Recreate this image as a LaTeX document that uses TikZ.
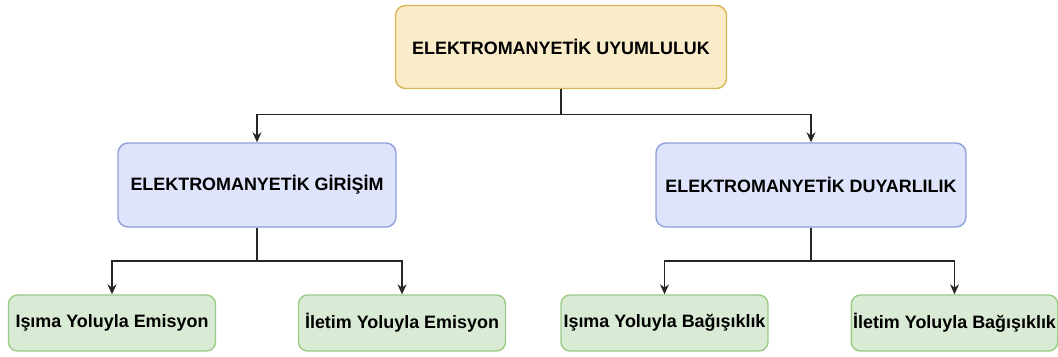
\documentclass[tikz,border=0pt]{standalone}
\usepackage{fontspec}
\setmainfont{Liberation Sans}
\usetikzlibrary{positioning,arrows.meta}
\tikzset{>={Stealth[length=2mm,width=1.8mm]}}
\definecolor{topfill}{HTML}{FAEBC9}
\definecolor{topline}{HTML}{D6B656}
\definecolor{midfill}{HTML}{DEE4FB}
\definecolor{midline}{HTML}{8E9FD9}
\definecolor{lowfill}{HTML}{D9EAD5}
\definecolor{lowline}{HTML}{9CCB85}
\tikzset{
  topbox/.style={draw=topline, fill=topfill, line width=0.8pt, rounded corners=0.2cm, minimum width=6.62cm, minimum height=1.66cm},
  midbox/.style={draw=midline, fill=midfill, line width=0.8pt, rounded corners=0.2cm, minimum height=1.68cm},
  lowbox/.style={draw=lowline, fill=lowfill, line width=0.8pt, rounded corners=0.18cm, inner xsep=1pt, minimum width=4.14cm, minimum height=1.12cm},
  conn/.style={->, line width=0.7pt, draw=black!85}
}
\begin{document}
\begin{tikzpicture}[font=\fontsize{10.2}{12}\selectfont\bfseries]
      \useasboundingbox (0,0) rectangle (21.16,-7.12);
      \node[topbox] (n0) at (11.22,-0.94) {ELEKTROMANYETİK UYUMLULUK};
      \coordinate[below of=n0, node distance=2.76cm] (aux1);
      \node[midbox, minimum width=5.56cm, left of=aux1, node distance=6.08cm] (n1) {ELEKTROMANYETİK GİRİŞİM};
      \node[midbox, minimum width=6.2cm, right of=aux1, node distance=5cm] (n2) {ELEKTROMANYETİK DUYARLILIK};
      \coordinate[below of=n1, node distance=2.76cm] (aux2);
      \coordinate[below of=n2, node distance=2.76cm] (aux3);
      \node[lowbox, left of=aux2, node distance=2.9cm] (n3) {Işıma Yoluyla Emisyon};
      \node[lowbox, right of=aux2, node distance=2.9cm] (n4) {İletim Yoluyla Emisyon};
      \node[lowbox, left of=aux3, node distance=2.93cm] (n5) {Işıma Yoluyla Bağışıklık};
      \node[lowbox, right of=aux3, node distance=2.87cm, minimum width=4.08cm] (n6) {İletim Yoluyla Bağışıklık};
      % branches
      \coordinate[below of=n0, node distance=1.35cm] (b0);
      \coordinate[below of=n1, node distance=1.52cm] (b1);
      \coordinate[below of=n2, node distance=1.52cm] (b2);
      \draw[conn] (n0.south) -- (b0) -| (n1.north);
      \draw[conn] (n0.south) -- (b0) -| (n2.north);
      \draw[conn] (n1.south) -- (b1) -| (n3.north);
      \draw[conn] (n1.south) -- (b1) -| (n4.north);
      \draw[conn] (n2.south) -- (b2) -| (n5.north);
      \draw[conn] (n2.south) -- (b2) -| (n6.north);
    \end{tikzpicture}
\end{document}
